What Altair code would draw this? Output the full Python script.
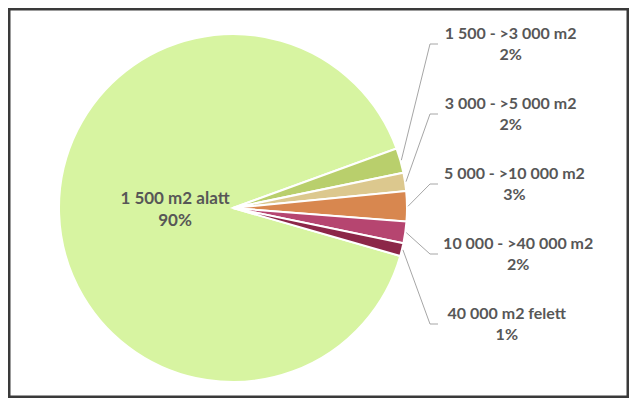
import math
import altair as alt
import pandas as pd

# ---- data ----
categories = [
    "1 500 m2 alatt",
    "1 500 - >3 000 m2",
    "3 000 - >5 000 m2",
    "5 000 - >10 000 m2",
    "10 000 - >40 000 m2",
    "40 000 m2 felett",
]
shares = [90.0, 2.3, 1.7, 2.8, 2.0, 1.2]
colors = ["#D7F4A1", "#B9CF6C", "#DCC88E", "#D8874F", "#B64570", "#8C2748"]

# ---- layout (styling) ----
W, H = 621, 390
CX, CY, R = 225, 200, 174
START_DEG = 106
LABEL_LEFT = 438
LABEL_TOP, LABEL_STEP = 36, 70
ELBOW_X, TAIL_X = 422, 430
HALF_CHAR = 3.8
LINE_H = 21
FONT = "Lato"
TXT = "#575757"

total = sum(shares)
pcts = [f"{round(v / total * 100):.0f}%" for v in shares]

df = pd.DataFrame({"cat": categories, "value": shares, "idx": list(range(len(categories)))})
df["inner"] = [[c, p] if i == 0 else "" for i, (c, p) in enumerate(zip(categories, pcts))]

start = math.radians(START_DEG)
lab_rows, line_rows = [], []
cum = 0.0
for i, (c, v, p) in enumerate(zip(categories, shares, pcts)):
    mid = cum + v / 2
    cum += v
    if i == 0:
        continue
    ang = start + mid / total * 2 * math.pi
    ax = CX + (R + 1) * math.sin(ang)
    ay = CY - (R + 1) * math.cos(ang)
    ly = LABEL_TOP + (i - 1) * LABEL_STEP
    lab_rows.append({"cat": c, "lines": [c, p], "lx": LABEL_LEFT + HALF_CHAR * len(c), "ly": ly})
    line_rows += [
        {"cat": c, "step": 0, "px": ax, "py": ay},
        {"cat": c, "step": 1, "px": ELBOW_X, "py": ly},
        {"cat": c, "step": 2, "px": TAIL_X, "py": ly},
    ]
labels_df = pd.DataFrame(lab_rows)
lines_df = pd.DataFrame(line_rows)

theta = alt.Theta("value:Q", stack=True,
                  scale=alt.Scale(range=[start, start + 2 * math.pi]))
color = alt.Color("cat:N", scale=alt.Scale(domain=categories, range=colors), legend=None)
order = alt.Order("idx:Q")

xs = alt.Scale(domain=[0, W], range=[0, W])
ys = alt.Scale(domain=[0, H], range=[0, H])

pie = alt.Chart(df).mark_arc(radius=R, stroke="white", strokeWidth=2).encode(
    theta=theta, color=color, order=order, x=alt.value(CX), y=alt.value(CY)
)

inner = alt.Chart(df).mark_text(
    radius=58, font=FONT, fontWeight="bold", fontSize=17, color=TXT,
    lineHeight=LINE_H + 1, align="center", baseline="middle", dy=-(LINE_H + 1) / 2
).encode(theta=theta, order=order, text="inner:N", x=alt.value(CX), y=alt.value(CY))

leaders = alt.Chart(lines_df).mark_line(color="#A6A6A6", strokeWidth=1).encode(
    x=alt.X("px:Q", scale=xs, axis=None),
    y=alt.Y("py:Q", scale=ys, axis=None),
    detail="cat:N",
    order="step:Q",
)

labels = alt.Chart(labels_df).mark_text(
    font=FONT, fontWeight="bold", fontSize=16, color=TXT,
    lineHeight=LINE_H, align="center", baseline="middle", dy=-LINE_H / 2
).encode(
    x=alt.X("lx:Q", scale=xs, axis=None),
    y=alt.Y("ly:Q", scale=ys, axis=None),
    text="lines:N",
)

chart = alt.layer(pie, inner, leaders, labels).properties(
    width=W, height=H, padding=0, autosize=alt.AutoSizeParams(type="none"),
    background="white",
).configure_view(stroke="#3A3A3A", strokeWidth=5)

chart.save("out.html", embed_options={"renderer": "svg", "actions": False})
